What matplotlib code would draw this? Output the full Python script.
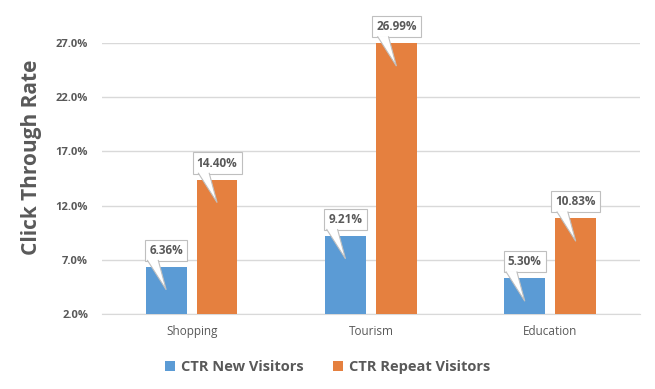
import numpy as np
import matplotlib
matplotlib.use("Agg")
from matplotlib import pyplot as plt
from matplotlib.path import Path
from matplotlib.patches import PathPatch
from matplotlib.transforms import Affine2D, ScaledTranslation

categories = ["Shopping", "Tourism", "Education"]
ctr_new = [6.36, 9.21, 5.30]
ctr_repeat = [14.40, 26.99, 10.83]
series_names = ["CTR New Visitors", "CTR Repeat Visitors"]
y_ticks = [2.0, 7.0, 12.0, 17.0, 22.0, 27.0]

blue = "#5B9BD5"
orange = "#E5803F"
txt = "#595959"
grid = "#D9D9D9"

plt.rcParams["font.family"] = ["Open Sans", "DejaVu Sans"]

fig = plt.figure(figsize=(6.55, 3.89), dpi=100)
ax = fig.add_axes([0.1557, 0.1928, 0.8213, 0.6967])

x = np.arange(len(categories))
w = 0.227
off = 0.142
base = y_ticks[0]
b1 = ax.bar(x - off, np.array(ctr_new) - base, w, bottom=base, color=blue, label=series_names[0], zorder=3)
b2 = ax.bar(x + off, np.array(ctr_repeat) - base, w, bottom=base, color=orange, label=series_names[1], zorder=3)

ax.set_xlim(-0.5, 2.5)
ax.set_ylim(2.0, 27.0)
ax.set_yticks(y_ticks)
ax.set_yticklabels(["%.1f%%" % t for t in y_ticks], fontsize=8, fontweight="bold", color=txt)
ax.set_xticks(x)
ax.set_xticklabels(categories, fontsize=8.5, color=txt)
ax.tick_params(axis="y", length=0, pad=10)
ax.tick_params(axis="x", length=0, pad=8)
ax.grid(axis="y", color=grid, lw=1, zorder=0)
for s in ["top", "right", "left"]:
    ax.spines[s].set_visible(False)
ax.spines["bottom"].set_color(grid)

ax.set_ylabel("Click Through Rate", fontsize=15, fontweight="bold", color=txt)
ax.yaxis.set_label_coords(-0.112, 0.578)

# callout labels
k = fig.dpi / 100.0
for xs, vals in [(x - off, ctr_new), (x + off, ctr_repeat)]:
    for xi, v in zip(xs, vals):
        tr = Affine2D().scale(k) + ScaledTranslation(xi, v, ax.transData)
        ax.annotate("%.2f%%" % v, (xi, v), xytext=(0, 16.5 * 0.72), textcoords="offset points",
                    ha="center", va="center", fontsize=8.5, fontweight="bold", color=txt,
                    bbox=dict(boxstyle="square,pad=0.35", fc="white", ec="#BFBFBF", lw=0.8),
                    zorder=5, annotation_clip=False)
        verts = [(-19, 6.8), (0, -23), (-8, 6.8)]
        p = Path(verts, [Path.MOVETO, Path.LINETO, Path.LINETO])
        ax.add_patch(PathPatch(p, transform=tr, fc="white", ec="#BFBFBF", lw=0.8, zorder=6, clip_on=False))

leg = fig.legend(handles=[b1, b2], loc="center", bbox_to_anchor=(0.5, 0.057), ncol=2, frameon=False,
                 prop={"weight": "bold", "size": 10.5}, handlelength=0.7, handleheight=0.7,
                 handletextpad=0.4, columnspacing=2.0)
for t in leg.get_texts():
    t.set_color(txt)

fig.savefig("out.png", dpi=100)
